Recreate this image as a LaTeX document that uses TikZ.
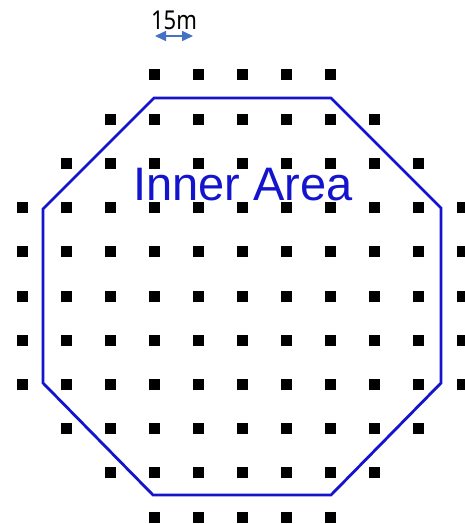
\documentclass[tikz,border=0pt]{standalone}
\usepackage{fontspec}
\setmainfont{Liberation Sans}
\newfontfamily\labelfont{Noto Sans}
\usetikzlibrary{arrows.meta}
\definecolor{areablue}{RGB}{20,20,205}
\definecolor{arrowblue}{RGB}{68,114,196}
\tikzset{
  pt/.style={fill=black,minimum size=11pt,inner sep=0pt,draw=none},
  octa/.style={draw=areablue,line width=2.8pt,line join=miter},
  dimarrow/.style={arrowblue,line width=1.6pt,{Triangle[length=11pt,width=10pt]}-{Triangle[length=11pt,width=10pt]}}
}
\begin{document}
\begin{tikzpicture}[x=1pt,y=-1pt]
\useasboundingbox (0,0) rectangle (464,524);
% grid of squares
\foreach \r/\a/\b in {0/3/7,1/2/8,2/1/9,3/0/10,4/0/10,5/0/10,6/0/10,7/0/10,8/1/9,9/2/8,10/3/7}{
  \foreach \c in {\a,...,\b}{
    \node[pt] (s-\r-\c) at ({22+44*\c},{75+44.2*\r}) {};
  }
}
% octagon
\coordinate (v1) at (154,98);
\coordinate (v2) at (331,98);
\coordinate (v3) at (441,208);
\coordinate (v4) at (441,383);
\coordinate (v5) at (331,495);
\coordinate (v6) at (153,495);
\coordinate (v7) at (43,383);
\coordinate (v8) at (43,209);
\draw[octa] (v1) -- (v2) -- (v3) -- (v4) -- (v5) -- (v6) -- (v7) -- (v8) -- cycle;
% label
\node[anchor=base,text=areablue,font=\fontsize{47}{47}\selectfont,inner sep=0pt] (lbl) at (243,200) {Inner Area};
% scale
\node[anchor=base,font=\labelfont\fontsize{26}{26}\selectfont,inner sep=0pt] (dim) at (174,29.5) {\scalebox{0.85}[1]{15m}};
\coordinate (d1) at (155,36);
\coordinate (d2) at (193,36);
\draw[dimarrow] (d1) -- (d2);
\end{tikzpicture}
\end{document}
